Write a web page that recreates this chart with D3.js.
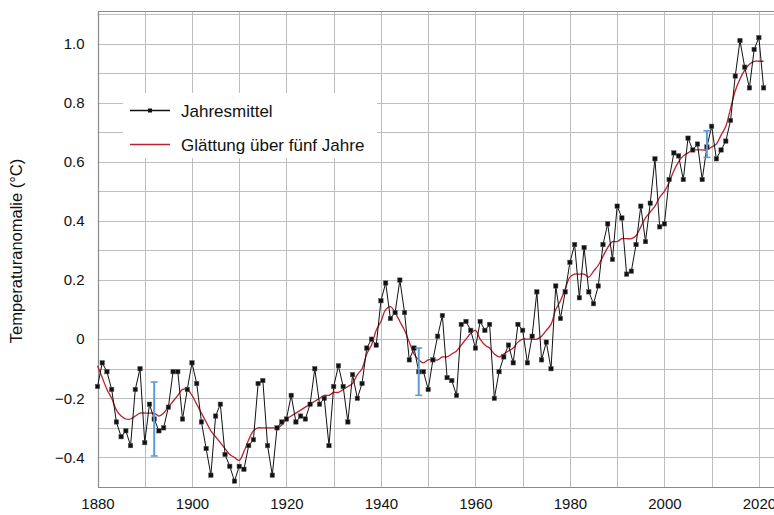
<!DOCTYPE html>
<html><head><meta charset="utf-8">
<script src="https://cdn.jsdelivr.net/npm/d3@7"></script>
<style>body{margin:0;background:#fff}svg{display:block;font-family:"Liberation Sans",Arial,sans-serif}</style>
</head><body>
<svg id="c" width="774" height="515"></svg>
<script>
const years = d3.range(1880, 2022);
const annual = [-0.16,-0.08,-0.11,-0.17,-0.28,-0.33,-0.31,-0.36,-0.17,-0.10,
-0.35,-0.22,-0.27,-0.31,-0.30,-0.23,-0.11,-0.11,-0.27,-0.17,
-0.08,-0.15,-0.28,-0.37,-0.46,-0.26,-0.22,-0.39,-0.43,-0.48,
-0.43,-0.44,-0.36,-0.34,-0.15,-0.14,-0.36,-0.46,-0.30,-0.28,
-0.27,-0.19,-0.28,-0.26,-0.27,-0.22,-0.10,-0.22,-0.20,-0.36,
-0.16,-0.09,-0.16,-0.28,-0.12,-0.20,-0.15,-0.03,0.00,-0.02,
0.13,0.19,0.07,0.09,0.20,0.09,-0.07,-0.03,-0.11,-0.11,
-0.17,-0.07,0.01,0.08,-0.13,-0.14,-0.19,0.05,0.06,0.03,
-0.03,0.06,0.03,0.05,-0.20,-0.11,-0.06,-0.02,-0.08,0.05,
0.03,-0.08,0.01,0.16,-0.07,-0.01,-0.10,0.18,0.07,0.16,
0.26,0.32,0.14,0.31,0.16,0.12,0.18,0.32,0.39,0.27,
0.45,0.41,0.22,0.23,0.32,0.45,0.33,0.46,0.61,0.38,
0.39,0.54,0.63,0.62,0.54,0.68,0.64,0.66,0.54,0.65,
0.72,0.61,0.64,0.67,0.74,0.89,1.01,0.92,0.85,0.98,
1.02,0.85];
const smooth = [-0.09,-0.13,-0.17,-0.20,-0.24,-0.26,-0.27,-0.27,-0.26,-0.25,
-0.25,-0.25,-0.25,-0.26,-0.25,-0.23,-0.21,-0.19,-0.17,-0.17,
-0.19,-0.22,-0.25,-0.28,-0.31,-0.33,-0.35,-0.37,-0.39,-0.40,
-0.41,-0.38,-0.34,-0.31,-0.30,-0.30,-0.30,-0.30,-0.30,-0.29,
-0.27,-0.26,-0.25,-0.24,-0.23,-0.22,-0.21,-0.20,-0.19,-0.19,
-0.18,-0.18,-0.17,-0.16,-0.15,-0.12,-0.10,-0.05,-0.02,0.03,
0.06,0.10,0.11,0.09,0.06,0.03,-0.01,-0.05,-0.07,-0.08,
-0.07,-0.07,-0.07,-0.06,-0.06,-0.05,-0.04,-0.02,0.00,0.02,
0.03,0.00,-0.02,-0.03,-0.05,-0.06,-0.05,-0.04,-0.03,-0.01,
0.00,0.00,0.00,0.00,0.01,0.03,0.05,0.10,0.13,0.17,
0.21,0.22,0.22,0.22,0.21,0.23,0.25,0.28,0.31,0.33,
0.33,0.34,0.34,0.34,0.35,0.38,0.41,0.43,0.45,0.48,
0.50,0.53,0.57,0.60,0.62,0.63,0.64,0.64,0.64,0.64,
0.65,0.66,0.69,0.72,0.78,0.84,0.88,0.91,0.93,0.94,
0.94,0.94];
const errYears = [1892, 1948, 2009];
const errCenter = [-0.27, -0.11, 0.66];
const errHalf = [0.125, 0.08, 0.045];
const xTicks = [1880,1900,1920,1940,1960,1980,2000,2020];
const yTicks = [-0.4,-0.2,0,0.2,0.4,0.6,0.8,1.0];
const yLabels = ["\u22120.4","\u22120.2","0","0.2","0.4","0.6","0.8","1.0"];
const legendLabels = ["Jahresmittel","Glättung über fünf Jahre"];

const svg = d3.select("#c");
const x = d3.scaleLinear().domain([1880, 2023.2]).range([97.5, 774]);
const y = d3.scaleLinear().domain([-0.5, 1.11]).range([487, 11]);

// grid
const g = svg.append("g");
g.selectAll("line.v").data(d3.range(1890, 2030, 10)).join("line")
  .attr("x1", d=>Math.round(x(d))+0.5).attr("x2", d=>Math.round(x(d))+0.5)
  .attr("y1", y(1.11)).attr("y2", y(-0.5))
  .attr("stroke", "#bdbdbd").attr("stroke-width", 1);
g.selectAll("line.h").data(d3.range(-4, 12).map(d=>d/10)).join("line")
  .attr("x1", x(1880)).attr("x2", 774)
  .attr("y1", d=>Math.round(y(d))+0.5).attr("y2", d=>Math.round(y(d))+0.5)
  .attr("stroke", "#bdbdbd").attr("stroke-width", 1);
// frame
svg.append("path")
  .attr("d", `M774,${Math.round(y(1.11))+0.5}H${Math.round(x(1880))+0.5}V${Math.round(y(-0.5))+0.5}H774`)
  .attr("fill","none").attr("stroke","#8a8a8a").attr("stroke-width",1.2);

// axes
const xAxis = svg.append("g").attr("transform", `translate(0,${y(-0.5)})`)
  .call(d3.axisBottom(x).tickValues(xTicks).tickFormat(d3.format("d")).tickSize(0).tickPadding(11));
xAxis.select(".domain").remove();
xAxis.selectAll("text").attr("font-size", 15).attr("fill", "#111").attr("font-family", "Liberation Sans, Arial, sans-serif");
const yAxis = svg.append("g").attr("transform", `translate(${x(1880)},0)`)
  .call(d3.axisLeft(y).tickValues(yTicks).tickFormat((d,i)=>yLabels[i]).tickSize(0).tickPadding(13));
yAxis.select(".domain").remove();
yAxis.selectAll("text").attr("font-size", 15).attr("fill", "#111").attr("font-family", "Liberation Sans, Arial, sans-serif");

svg.append("text").attr("transform", "translate(22,251) rotate(-90)")
  .attr("text-anchor","middle").attr("font-size",16.5).attr("fill","#111")
  .text("Temperaturanomalie (°C)");

// smooth line
const lineS = d3.line().curve(d3.curveCatmullRom.alpha(0.5)).x((d,i)=>x(years[i])).y(d=>y(d));
svg.append("path").datum(smooth).attr("d", lineS)
  .attr("fill","none").attr("stroke","#b8202e").attr("stroke-width",1.3);
// annual line
const line = d3.line().x((d,i)=>x(years[i])).y(d=>y(d));
svg.append("path").datum(annual).attr("d", line)
  .attr("fill","none").attr("stroke","#111").attr("stroke-width",1);
svg.selectAll("rect.m").data(annual).join("rect")
  .attr("x",(d,i)=>x(years[i])-2.2).attr("y",d=>y(d)-2.2)
  .attr("width",4.4).attr("height",4.4).attr("fill","#111").attr("stroke","#555").attr("stroke-width",0.5);

// error bars
const eb = svg.selectAll("g.eb").data(errYears).join("g");
eb.append("line").attr("x1",d=>x(d)).attr("x2",d=>x(d))
  .attr("y1",(d,i)=>y(errCenter[i]+errHalf[i])).attr("y2",(d,i)=>y(errCenter[i]-errHalf[i]))
  .attr("stroke","#5f9bd8").attr("stroke-width",2);
eb.append("line").attr("x1",d=>x(d)-3.5).attr("x2",d=>x(d)+3.5)
  .attr("y1",(d,i)=>y(errCenter[i]+errHalf[i])).attr("y2",(d,i)=>y(errCenter[i]+errHalf[i]))
  .attr("stroke","#5f9bd8").attr("stroke-width",1.6);
eb.append("line").attr("x1",d=>x(d)-3.5).attr("x2",d=>x(d)+3.5)
  .attr("y1",(d,i)=>y(errCenter[i]-errHalf[i])).attr("y2",(d,i)=>y(errCenter[i]-errHalf[i]))
  .attr("stroke","#5f9bd8").attr("stroke-width",1.6);

// legend
const lg = svg.append("g");
lg.append("rect").attr("x",123).attr("y",93).attr("width",254).attr("height",65).attr("fill","#fff");
lg.append("line").attr("x1",130).attr("x2",170).attr("y1",110.5).attr("y2",110.5).attr("stroke","#111").attr("stroke-width",1.3);
lg.append("rect").attr("x",148).attr("y",108.5).attr("width",4).attr("height",4).attr("fill","#111");
lg.append("line").attr("x1",130).attr("x2",170).attr("y1",144.5).attr("y2",144.5).attr("stroke","#b8202e").attr("stroke-width",1.5);
lg.selectAll("text").data(legendLabels).join("text")
  .attr("x",181).attr("y",(d,i)=>116.5+i*34).attr("font-size",17).attr("fill","#111").text(d=>d);
</script>
</body></html>
